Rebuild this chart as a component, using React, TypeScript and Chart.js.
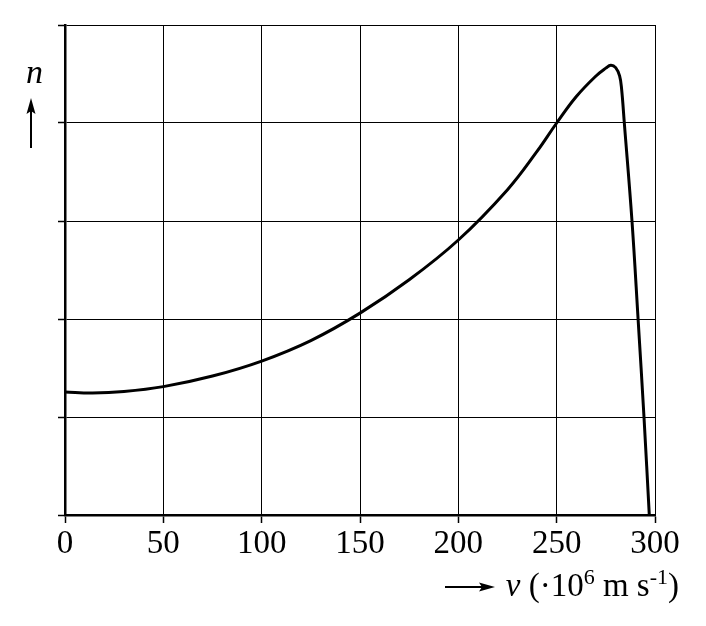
import React, { useEffect, useRef } from "react";
import { Chart, registerables } from "chart.js";

Chart.register(...registerables);

// velocity v (·10^6 m/s) and relative count n
const vValues = [0, 14, 30, 50, 75, 100, 125, 150, 175, 200, 225, 240, 250, 260, 270, 275, 277.5, 280, 282, 283, 284.4, 288.3, 291.4, 294.4, 297.1];
const nValues = [1.255, 1.245, 1.26, 1.31, 1.418, 1.571, 1.78, 2.06, 2.4, 2.806, 3.32, 3.71, 4.0, 4.27, 4.48, 4.56, 4.59, 4.565, 4.48, 4.35, 4.0, 3.0, 2.0, 1.0, 0];
const xTicks = [0, 50, 100, 150, 200, 250, 300];

const serif = "'Liberation Serif', 'DejaVu Serif', serif";

const App = () => {
  const chartRef = useRef<HTMLCanvasElement | null>(null);
  const chartInstanceRef = useRef<Chart | null>(null);

  useEffect(() => {
    const ctx = chartRef.current?.getContext("2d");
    if (!ctx) return;
    if (chartInstanceRef.current) {
      chartInstanceRef.current.destroy();
    }

    chartInstanceRef.current = new Chart(ctx, {
      type: "line",
      data: {
        datasets: [
          {
            label: "n",
            data: vValues.map((v, i) => ({ x: v, y: nValues[i] })),
            borderColor: "#000",
            borderWidth: 3,
            pointRadius: 0,
            fill: false,
            tension: 0.4,
          },
        ],
      },
      options: {
        responsive: true,
        maintainAspectRatio: false,
        animation: false,
        layout: { padding: { top: 25, right: 51, left: 0, bottom: 0 } },
        plugins: {
          legend: { display: false },
          tooltip: { enabled: false },
        },
        scales: {
          x: {
            type: "linear",
            min: 0,
            max: 300,
            afterBuildTicks: (scale: any) => {
              scale.ticks = xTicks.map((v) => ({ value: v }));
            },
            afterFit: (scale: any) => {
              scale.height = 111;
            },
            grid: {
              color: "#000",
              lineWidth: 1,
              drawTicks: true,
              tickLength: 8,
              tickColor: "#000",
              tickWidth: 1.5,
            },
            border: { display: true, color: "#000", width: 2.5 },
            ticks: {
              color: "#000",
              padding: 2,
              maxRotation: 0,
              font: { family: serif, size: 33 },
            },
          },
          y: {
            type: "linear",
            min: 0,
            max: 5,
            afterFit: (scale: any) => {
              scale.width = 65;
            },
            grid: {
              color: "#000",
              lineWidth: 1,
              drawTicks: true,
              tickLength: 7,
              tickColor: "#000",
              tickWidth: 1.5,
            },
            border: { display: true, color: "#000", width: 2.5 },
            ticks: {
              stepSize: 1,
              color: "rgba(0,0,0,0)",
              font: { size: 1 },
              padding: 0,
            },
          },
        },
      },
    });

    return () => {
      if (chartInstanceRef.current) {
        chartInstanceRef.current.destroy();
        chartInstanceRef.current = null;
      }
    };
  }, []);

  return (
    <div style={{ position: "absolute", left: 0, top: 0, width: "706px", height: "626px", background: "#fff" }}>
      <canvas ref={chartRef} style={{ width: "100%", height: "100%" }}></canvas>
      <svg width="706" height="626" style={{ position: "absolute", left: 0, top: 0, pointerEvents: "none" }}>
        <line x1="31" y1="148" x2="31" y2="108" stroke="#000" strokeWidth="2" />
        <path d="M31 98 L35.5 114 L31 111 L26.5 114 Z" fill="#000" />
        <line x1="445" y1="587" x2="485" y2="587" stroke="#000" strokeWidth="2" />
        <path d="M495 587 L479 582.5 L482 587 L479 591.5 Z" fill="#000" />
      </svg>
      <div
        style={{
          position: "absolute",
          left: "26px",
          top: "55px",
          fontFamily: serif,
          fontStyle: "italic",
          fontSize: "34px",
          lineHeight: "34px",
          color: "#000",
        }}
      >
        n
      </div>
      <div
        style={{
          position: "absolute",
          right: "27px",
          top: "569px",
          fontFamily: serif,
          fontSize: "33px",
          lineHeight: "33px",
          color: "#000",
          whiteSpace: "nowrap",
        }}
      >
        <i>v</i> (·10<sup style={{ fontSize: "22px", lineHeight: 0 }}>6</sup> m s<sup style={{ fontSize: "22px", lineHeight: 0 }}>-1</sup>)
      </div>
    </div>
  );
};

export default App;
